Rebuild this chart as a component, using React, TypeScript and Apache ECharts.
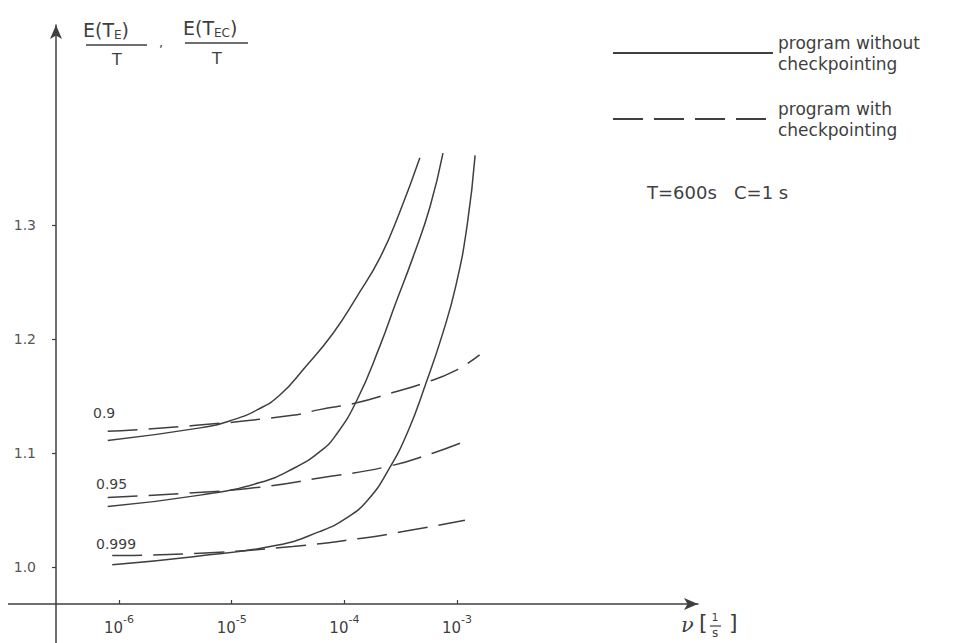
import React, { useEffect, useRef } from "react";
import * as echarts from "echarts";

// log10(nu) positions and ratio values
const solid09X = [-6.1, -5.28, -4.99, -4.77, -4.57, -4.35, -4.1, -3.89, -3.68, -3.51, -3.33];
const solid09Y = [1.111, 1.122, 1.129, 1.138, 1.151, 1.175, 1.205, 1.237, 1.272, 1.311, 1.359];
const solid095X = [-6.1, -5.28, -4.75, -4.44, -4.22, -4.08, -3.89, -3.68, -3.55, -3.39, -3.24, -3.125];
const solid095Y = [1.053, 1.063, 1.074, 1.087, 1.101, 1.115, 1.146, 1.195, 1.23, 1.272, 1.316, 1.363];
const solid0999X = [-6.06, -5.34, -4.6, -4.22, -3.98, -3.79, -3.61, -3.44, -3.28, -3.13, -3.01, -2.91, -2.84];
const solid0999Y = [1.002, 1.009, 1.019, 1.031, 1.043, 1.059, 1.085, 1.118, 1.16, 1.204, 1.247, 1.3, 1.361];
const dash09X = [-6.1, -5.34, -4.46, -4.22, -3.89, -3.57, -3.3, -3.02, -2.8];
const dash09Y = [1.119, 1.124, 1.133, 1.138, 1.144, 1.153, 1.161, 1.172, 1.186];
const dash095X = [-6.1, -5.34, -4.75, -4.22, -3.62, -3.21, -2.91];
const dash095Y = [1.061, 1.065, 1.07, 1.078, 1.088, 1.1, 1.111];
const dash0999X = [-6.06, -5.28, -4.46, -3.86, -3.48, -2.93];
const dash0999Y = [1.01, 1.012, 1.018, 1.025, 1.031, 1.041];

const xTickExponents = [-6, -5, -4, -3];
const yTickValues = [1.0, 1.1, 1.2, 1.3];
const curveLabels = ["0.9", "0.95", "0.999"];

const nameSolid = "program without\ncheckpointing";
const nameDashed = "program with\ncheckpointing";

const INK = "#3f3f3f";
const FONT = "DejaVu Sans";

const pairs = (xs: number[], ys: number[]) => xs.map((x, i) => [x, ys[i]]);

export default function App() {
  const ref = useRef<HTMLDivElement>(null);
  useEffect(() => {
    if (!ref.current) return;
    const chart = echarts.init(ref.current, undefined, { renderer: "svg" });
    const solidStyle = { color: INK, width: 1.5, type: "solid" as const };
    const dashStyle = { color: INK, width: 1.5, type: [30, 11] as any };
    const mk = (name: string, data: number[][], style: any) => ({
      type: "line",
      name,
      data,
      smooth: 0.5,
      symbol: "none",
      lineStyle: style,
      itemStyle: { color: INK },
      silent: true,
    });
    chart.setOption({
      animation: false,
      backgroundColor: "#ffffff",
      grid: { left: 56, right: 266, top: 25, bottom: 39 },
      legend: {
        orient: "vertical",
        left: 607,
        top: 27,
        itemWidth: 160,
        itemHeight: 14,
        itemGap: 24,
        data: [nameSolid, nameDashed],
        itemStyle: { opacity: 0, borderWidth: 0 },
        textStyle: { fontSize: 17, lineHeight: 21, color: INK, fontFamily: FONT },
        selectedMode: false,
      },
      xAxis: {
        type: "value",
        min: -6.559,
        max: -0.862,
        splitLine: { show: false },
        axisLine: {
          show: true,
          symbol: ["none", "arrow"],
          symbolSize: [9, 14],
          lineStyle: { color: INK, width: 1.5 },
        },
        axisTick: {
          show: true,
          inside: true,
          length: 4,
          customValues: xTickExponents,
          lineStyle: { color: INK, width: 1.2 },
        },
        axisLabel: {
          customValues: xTickExponents,
          margin: 10,
          formatter: (v: number) => `{b|10}{s|${v}}`,
          rich: {
            b: { fontSize: 15, lineHeight: 28, color: INK, fontFamily: FONT, verticalAlign: "middle" },
            s: { fontSize: 11, lineHeight: 14, color: INK, fontFamily: FONT, verticalAlign: "top" },
          },
        },
      },
      yAxis: {
        type: "value",
        min: 0.9675,
        max: 1.4754,
        splitLine: { show: false },
        axisLine: {
          show: true,
          symbol: ["none", "arrow"],
          symbolSize: [9, 14],
          lineStyle: { color: INK, width: 1.5 },
        },
        axisTick: {
          show: true,
          length: 4,
          customValues: yTickValues,
          lineStyle: { color: INK, width: 1.2 },
        },
        axisLabel: {
          customValues: yTickValues,
          margin: 20,
          formatter: (v: number) => v.toFixed(1),
          fontSize: 14,
          color: "#555",
          fontFamily: FONT,
        },
      },
      series: [
        mk(nameSolid, pairs(solid09X, solid09Y), solidStyle),
        mk(nameSolid, pairs(solid095X, solid095Y), solidStyle),
        mk(nameSolid, pairs(solid0999X, solid0999Y), solidStyle),
        mk(nameDashed, pairs(dash09X, dash09Y), dashStyle),
        mk(nameDashed, pairs(dash095X, dash095Y), dashStyle),
        mk(nameDashed, pairs(dash0999X, dash0999Y), dashStyle),
      ],
      graphic: [
        // axis stubs beyond the crossing point
        { type: "line", shape: { x1: 8, y1: 604, x2: 56, y2: 604 }, style: { stroke: INK, lineWidth: 1.5 }, silent: true },
        { type: "line", shape: { x1: 56, y1: 604, x2: 56, y2: 643 }, style: { stroke: INK, lineWidth: 1.5 }, silent: true },
        // y-axis title: E(T_E)/T , E(T_EC)/T
        {
          type: "text", x: 83, y: 19,
          style: {
            text: "{a|E(T}{u|E}{a|)}",
            rich: {
              a: { fontSize: 19, lineHeight: 22, fill: INK, fontFamily: FONT, verticalAlign: "middle" },
              u: { fontSize: 12, lineHeight: 12, fill: INK, fontFamily: FONT, verticalAlign: "bottom" },
            },
          },
        },
        { type: "line", shape: { x1: 86, y1: 45, x2: 147, y2: 45 }, style: { stroke: INK, lineWidth: 1.5 } },
        { type: "text", x: 117, y: 51, style: { text: "T", fontSize: 16, fill: INK, fontFamily: FONT, align: "center" } },
        { type: "text", x: 159, y: 36, style: { text: ",", fontSize: 13, fill: INK, fontFamily: FONT } },
        {
          type: "text", x: 183, y: 17,
          style: {
            text: "{a|E(T}{u|EC}{a|)}",
            rich: {
              a: { fontSize: 19, lineHeight: 22, fill: INK, fontFamily: FONT, verticalAlign: "middle" },
              u: { fontSize: 12, lineHeight: 12, fill: INK, fontFamily: FONT, verticalAlign: "bottom" },
            },
          },
        },
        { type: "line", shape: { x1: 185, y1: 43, x2: 248, y2: 43 }, style: { stroke: INK, lineWidth: 1.5 } },
        { type: "text", x: 217, y: 50, style: { text: "T", fontSize: 16, fill: INK, fontFamily: FONT, align: "center" } },
        // x-axis title: nu [1/s]
        { type: "text", x: 681, y: 614, style: { text: "ν", font: "italic 21px DejaVu Serif", fill: INK } },
        { type: "text", x: 699, y: 611, style: { text: "[", fontSize: 22, fill: INK, fontFamily: FONT } },
        { type: "text", x: 715, y: 612, style: { text: "1", fontSize: 11, fill: INK, fontFamily: FONT, align: "center" } },
        { type: "line", shape: { x1: 710, y1: 626, x2: 721, y2: 626 }, style: { stroke: INK, lineWidth: 1.2 } },
        { type: "text", x: 715, y: 627, style: { text: "s", fontSize: 12, fill: INK, fontFamily: FONT, align: "center" } },
        { type: "text", x: 729, y: 611, style: { text: "]", fontSize: 22, fill: INK, fontFamily: FONT } },
        // parameters
        { type: "text", x: 647, y: 183, style: { text: "T=600s   C=1 s", fontSize: 18, fill: INK, fontFamily: FONT } },
        // curve labels
        { type: "text", x: 93, y: 406, style: { text: curveLabels[0], fontSize: 14, fill: INK, fontFamily: FONT } },
        { type: "text", x: 96, y: 477, style: { text: curveLabels[1], fontSize: 14, fill: INK, fontFamily: FONT } },
        { type: "text", x: 96, y: 537, style: { text: curveLabels[2], fontSize: 14, fill: INK, fontFamily: FONT } },
      ],
    });
    return () => chart.dispose();
  }, []);
  return (
    <div
      ref={ref}
      style={{ position: "fixed", left: 0, top: 0, width: 964, height: 643, background: "#fff" }}
    />
  );
}
